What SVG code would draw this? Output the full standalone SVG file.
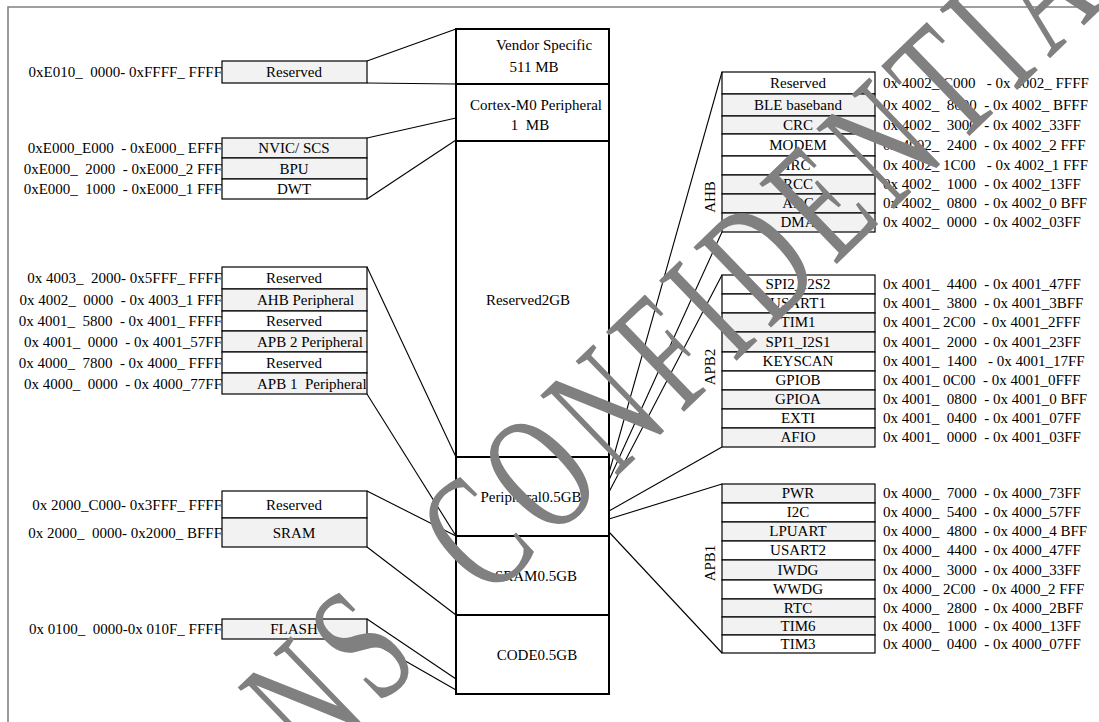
<svg xmlns="http://www.w3.org/2000/svg" width="1099" height="722" viewBox="0 0 1099 722">
<style>
text{font-family:"Liberation Serif","Times New Roman",serif;font-size:15px;fill:#000;white-space:pre}
.c{text-anchor:middle}
.e{text-anchor:end}
.b{stroke:#000;stroke-width:1.2;fill:#fff}
.g{stroke:#000;stroke-width:1.2;fill:#f2f2f2}
.m{stroke:#000;stroke-width:2;fill:#fff}
.ln{stroke:#000;stroke-width:1.1;fill:none}
.wm{font-size:110px;fill:#808080;letter-spacing:12px}
</style>
<rect width="1099" height="722" fill="#fff"/>
<path d="M8,722 V7 H1099" fill="none" stroke="#808080" stroke-width="1.6"/>

<g id="memory-map">
<rect class="m" x="456" y="29" width="153" height="55"/>
<rect class="m" x="456" y="84" width="153" height="57"/>
<rect class="m" x="456" y="141" width="153" height="316"/>
<rect class="m" x="456" y="457" width="153" height="79"/>
<rect class="m" x="456" y="536" width="153" height="79"/>
<rect class="m" x="456" y="615" width="153" height="79"/>
<text class="c" x="544" y="50">Vendor Specific</text>
<text class="c" x="534" y="72">511 MB</text>
<text class="c" x="536" y="110">Cortex-M0 Peripheral</text>
<text class="c" x="530" y="130" xml:space="preserve">1  MB</text>
<text class="c" x="528" y="305">Reserved2GB</text>
<text class="c" x="531" y="502">Peripheral0.5GB</text>
<text class="c" x="536" y="581">SRAM0.5GB</text>
<text class="c" x="537" y="660">CODE0.5GB</text>
</g>

<g id="vendor">
<rect class="g" x="222" y="61" width="145" height="22"/>
<text class="c" x="294" y="77">Reserved</text>
<text class="e" x="222" y="77" xml:space="preserve">0xE010_  0000- 0xFFFF_ FFFF</text>
</g>

<g id="cortex">
<rect class="g" x="222" y="138" width="145" height="20"/>
<rect class="g" x="222" y="158" width="145" height="21"/>
<rect class="b" x="222" y="179" width="145" height="20"/>
<text class="c" x="294" y="153">NVIC/ SCS</text>
<text class="c" x="294" y="174">BPU</text>
<text class="c" x="294" y="194">DWT</text>
<text class="e" x="222" y="153" xml:space="preserve">0xE000_E000  - 0xE000_ EFFF</text>
<text class="e" x="222" y="174" xml:space="preserve">0xE000_  2000  - 0xE000_2 FFF</text>
<text class="e" x="222" y="194" xml:space="preserve">0xE000_  1000  - 0xE000_1 FFF</text>
</g>

<g id="peripheral">
<rect class="b" x="222" y="267" width="145" height="22"/>
<rect class="g" x="222" y="289" width="145" height="22"/>
<rect class="b" x="222" y="311" width="145" height="20"/>
<rect class="g" x="222" y="331" width="145" height="21"/>
<rect class="b" x="222" y="352" width="145" height="21"/>
<rect class="g" x="222" y="373" width="145" height="21"/>
<text class="c" x="294" y="283">Reserved</text>
<text x="257" y="305">AHB Peripheral</text>
<text class="c" x="294" y="326">Reserved</text>
<text x="257" y="347">APB 2 Peripheral</text>
<text class="c" x="294" y="368">Reserved</text>
<text x="257" y="389" xml:space="preserve">APB 1  Peripheral</text>
<text class="e" x="222" y="283" xml:space="preserve">0x 4003_  2000- 0x5FFF_ FFFF</text>
<text class="e" x="222" y="305" xml:space="preserve">0x 4002_  0000  - 0x 4003_1 FFF</text>
<text class="e" x="222" y="326" xml:space="preserve">0x 4001_  5800  - 0x 4001_ FFFF</text>
<text class="e" x="222" y="347" xml:space="preserve">0x 4001_  0000  - 0x 4001_57FF</text>
<text class="e" x="222" y="368" xml:space="preserve">0x 4000_  7800  - 0x 4000_ FFFF</text>
<text class="e" x="222" y="389" xml:space="preserve">0x 4000_  0000  - 0x 4000_77FF</text>
</g>

<g id="sram">
<rect class="b" x="222" y="491" width="145" height="27"/>
<rect class="g" x="222" y="518" width="145" height="29"/>
<text class="c" x="294" y="510">Reserved</text>
<text class="c" x="294" y="538">SRAM</text>
<text class="e" x="222" y="510" xml:space="preserve">0x 2000_C000- 0x3FFF_ FFFF</text>
<text class="e" x="222" y="538" xml:space="preserve">0x 2000_  0000- 0x2000_ BFFF</text>
</g>

<g id="flash">
<rect class="g" x="222" y="619" width="145" height="20"/>
<text class="c" x="294" y="634">FLASH</text>
<text class="e" x="222" y="634" xml:space="preserve">0x 0100_  0000-0x 010F_ FFFF</text>
</g>

<g id="ahb">
<rect class="b" x="722" y="72" width="153" height="22"/>
<rect class="g" x="722" y="94" width="153" height="22"/>
<rect class="g" x="722" y="116" width="153" height="18"/>
<rect class="b" x="722" y="134" width="153" height="22"/>
<rect class="b" x="722" y="156" width="153" height="19"/>
<rect class="g" x="722" y="175" width="153" height="19"/>
<rect class="g" x="722" y="194" width="153" height="19"/>
<rect class="g" x="722" y="213" width="153" height="19"/>
<text class="c" x="798" y="88">Reserved</text>
<text class="c" x="798" y="110">BLE baseband</text>
<text class="c" x="798" y="130">CRC</text>
<text class="c" x="798" y="150">MODEM</text>
<text class="c" x="798" y="170">IRC</text>
<text class="c" x="798" y="189">RCC</text>
<text class="c" x="798" y="208">ADC</text>
<text class="c" x="798" y="227">DMA</text>
<text x="883" y="88" xml:space="preserve">0x 4002_ C000   - 0x 4002_ FFFF</text>
<text x="883" y="110" xml:space="preserve">0x 4002_  8000  - 0x 4002_ BFFF</text>
<text x="883" y="130" xml:space="preserve">0x 4002_  3000  - 0x 4002_33FF</text>
<text x="883" y="150" xml:space="preserve">0x 4002_  2400  - 0x 4002_2 FFF</text>
<text x="883" y="170" xml:space="preserve">0x 4002_ 1C00   - 0x 4002_1 FFF</text>
<text x="883" y="189" xml:space="preserve">0x 4002_  1000  - 0x 4002_13FF</text>
<text x="883" y="208" xml:space="preserve">0x 4002_  0800  - 0x 4002_0 BFF</text>
<text x="883" y="227" xml:space="preserve">0x 4002_  0000  - 0x 4002_03FF</text>
<text class="c" transform="translate(715,197) rotate(-90)">AHB</text>
</g>

<g id="apb2">
<rect class="b" x="722" y="275" width="153" height="19"/>
<rect class="b" x="722" y="294" width="153" height="19"/>
<rect class="g" x="722" y="313" width="153" height="19"/>
<rect class="g" x="722" y="332" width="153" height="20"/>
<rect class="b" x="722" y="352" width="153" height="19"/>
<rect class="b" x="722" y="371" width="153" height="19"/>
<rect class="g" x="722" y="390" width="153" height="19"/>
<rect class="b" x="722" y="409" width="153" height="19"/>
<rect class="g" x="722" y="428" width="153" height="19"/>
<text class="c" x="798" y="289">SPI2_I2S2</text>
<text class="c" x="798" y="308">USART1</text>
<text class="c" x="798" y="327">TIM1</text>
<text class="c" x="798" y="347">SPI1_I2S1</text>
<text class="c" x="798" y="366">KEYSCAN</text>
<text class="c" x="798" y="385">GPIOB</text>
<text class="c" x="798" y="404">GPIOA</text>
<text class="c" x="798" y="423">EXTI</text>
<text class="c" x="798" y="442">AFIO</text>
<text x="883" y="289" xml:space="preserve">0x 4001_  4400  - 0x 4001_47FF</text>
<text x="883" y="308" xml:space="preserve">0x 4001_  3800  - 0x 4001_3BFF</text>
<text x="883" y="327" xml:space="preserve">0x 4001_ 2C00  - 0x 4001_2FFF</text>
<text x="883" y="347" xml:space="preserve">0x 4001_  2000  - 0x 4001_23FF</text>
<text x="883" y="366" xml:space="preserve">0x 4001_  1400   - 0x 4001_17FF</text>
<text x="883" y="385" xml:space="preserve">0x 4001_ 0C00  - 0x 4001_0FFF</text>
<text x="883" y="404" xml:space="preserve">0x 4001_  0800  - 0x 4001_0 BFF</text>
<text x="883" y="423" xml:space="preserve">0x 4001_  0400  - 0x 4001_07FF</text>
<text x="883" y="442" xml:space="preserve">0x 4001_  0000  - 0x 4001_03FF</text>
<text class="c" transform="translate(715,367) rotate(-90)">APB2</text>
</g>

<g id="apb1">
<rect class="g" x="722" y="484" width="153" height="19"/>
<rect class="b" x="722" y="503" width="153" height="19"/>
<rect class="g" x="722" y="522" width="153" height="19"/>
<rect class="b" x="722" y="541" width="153" height="19"/>
<rect class="g" x="722" y="560" width="153" height="20"/>
<rect class="b" x="722" y="580" width="153" height="19"/>
<rect class="g" x="722" y="599" width="153" height="18"/>
<rect class="g" x="722" y="617" width="153" height="18"/>
<rect class="b" x="722" y="635" width="153" height="18"/>
<text class="c" x="798" y="498">PWR</text>
<text class="c" x="798" y="517">I2C</text>
<text class="c" x="798" y="536">LPUART</text>
<text class="c" x="798" y="555">USART2</text>
<text class="c" x="798" y="575">IWDG</text>
<text class="c" x="798" y="594">WWDG</text>
<text class="c" x="798" y="613">RTC</text>
<text class="c" x="798" y="631">TIM6</text>
<text class="c" x="798" y="649">TIM3</text>
<text x="883" y="498" xml:space="preserve">0x 4000_  7000  - 0x 4000_73FF</text>
<text x="883" y="517" xml:space="preserve">0x 4000_  5400  - 0x 4000_57FF</text>
<text x="883" y="536" xml:space="preserve">0x 4000_  4800  - 0x 4000_4 BFF</text>
<text x="883" y="555" xml:space="preserve">0x 4000_  4400  - 0x 4000_47FF</text>
<text x="883" y="575" xml:space="preserve">0x 4000_  3000  - 0x 4000_33FF</text>
<text x="883" y="594" xml:space="preserve">0x 4000_ 2C00  - 0x 4000_2 FFF</text>
<text x="883" y="613" xml:space="preserve">0x 4000_  2800  - 0x 4000_2BFF</text>
<text x="883" y="631" xml:space="preserve">0x 4000_  1000  - 0x 4000_13FF</text>
<text x="883" y="649" xml:space="preserve">0x 4000_  0400  - 0x 4000_07FF</text>
<text class="c" transform="translate(715,563) rotate(-90)">APB1</text>
</g>

<g id="connectors" class="ln">
<line x1="367" y1="61" x2="456" y2="29"/>
<line x1="367" y1="83" x2="456" y2="84"/>
<line x1="367" y1="138" x2="456" y2="118"/>
<line x1="367" y1="199" x2="456" y2="140"/>
<line x1="367" y1="267" x2="456" y2="457"/>
<line x1="367" y1="394" x2="456" y2="536"/>
<line x1="367" y1="491" x2="456" y2="536"/>
<line x1="367" y1="547" x2="456" y2="615"/>
<line x1="367" y1="619" x2="456" y2="679"/>
<line x1="367" y1="639" x2="456" y2="690"/>
<line x1="722" y1="72" x2="609" y2="473"/>
<line x1="722" y1="232" x2="609" y2="480"/>
<line x1="722" y1="275" x2="609" y2="492"/>
<line x1="722" y1="447" x2="609" y2="511"/>
<line x1="722" y1="484" x2="609" y2="519"/>
<line x1="722" y1="653" x2="609" y2="532"/>
</g>

<g id="watermark">
<text class="wm" transform="translate(313,770) rotate(-44) scale(1,1.55)" xml:space="preserve">NS  CONFIDENTIAL</text>
</g>
</svg>
